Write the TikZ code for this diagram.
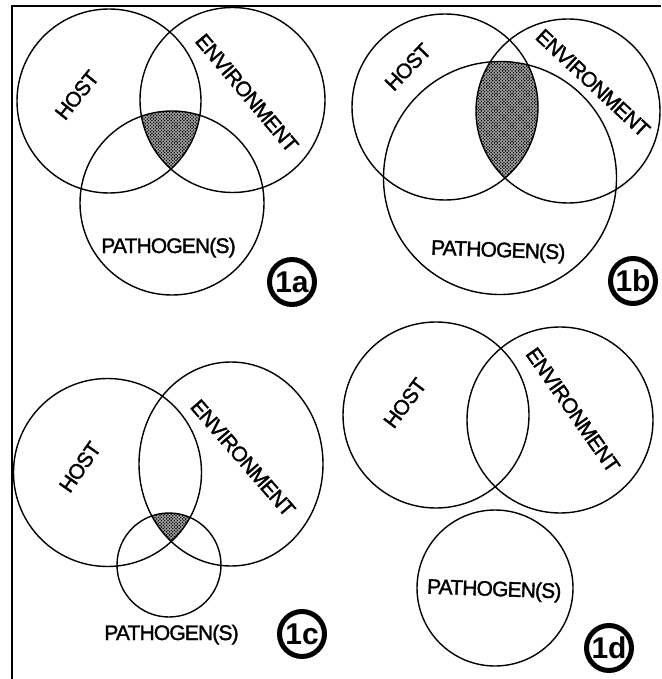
\documentclass[tikz,border=0pt]{standalone}
\usepackage{fontspec}
\setmainfont{Liberation Sans}
\newfontface\lblface[FakeBold=1.6, LetterSpace=-4]{Liberation Sans}
\usetikzlibrary{patterns}

% stipple used for the shaded overlap regions
\pgfdeclarepatternformonly{stipple}{\pgfqpoint{-1pt}{-1pt}}{\pgfqpoint{2.2pt}{2.2pt}}{\pgfqpoint{3.2pt}{3.2pt}}{%
  \pgfpathcircle{\pgfqpoint{0pt}{0pt}}{0.9pt}%
  \pgfpathcircle{\pgfqpoint{1.6pt}{1.6pt}}{0.9pt}%
  \pgfusepath{fill}}

\begin{document}
\begin{tikzpicture}[x=1pt, y=-1pt,
  ring/.style={draw, line width=1.4pt},
  lbl/.style={font=\lblface\fontsize{21}{22}\selectfont, inner sep=0pt},
  tag/.style={circle, draw, line width=5pt, minimum size=45pt, inner sep=0pt,
              font=\bfseries\fontsize{30}{30}\selectfont},
  dotfill/.style={fill=black!30, postaction={pattern=stipple}}]

\useasboundingbox (0,0) rectangle (661,679);

% frame (top and left edges)
\draw[line width=2pt] (12,679) -- (12,6) -- (661,6);

% ---------- 1a ----------
\begin{scope}
  \clip (109,101) circle (92);
  \clip (232.5,100) circle (92.5);
  \fill[dotfill] (172,203) circle (92);
\end{scope}
\draw[ring] (109,101) circle (92);
\draw[ring] (232.5,100) circle (92.5);
\draw[ring] (172,203) circle (92);
\node[lbl, rotate=51] (hostA) at (77,95) {HOST};
\node[lbl, rotate=-50] (envA) at (247,93) {ENVIRONMENT};
\node[lbl, anchor=base] (pathA) at (168.5,253) {PATHOGEN(S)};
\node[tag] (tagA) at (292,282) {1a};

% ---------- 1b ----------
\begin{scope}
  \clip (445,107) circle (93);
  \clip (568,111) circle (92);
  \fill[dotfill] (500,178) circle (116.5);
\end{scope}
\draw[ring] (445,107) circle (93);
\draw[ring] (568,111) circle (92);
\draw[ring] (500,178) circle (116.5);
\node[lbl, rotate=46] (hostB) at (408,67) {HOST};
\node[lbl, rotate=-43] (envB) at (593,83) {ENVIRONMENT};
\node[lbl, anchor=base, rotate=-2] (pathB) at (498,257) {PATHOGEN(S)};
\node[tag] (tagB) at (633,281) {1b};

% ---------- 1c ----------
\begin{scope}
  \clip (107.5,472.5) circle (94);
  \clip (231,464) ellipse [x radius=92, y radius=102];
  \fill[dotfill] (169,565) circle (52);
\end{scope}
\draw[ring] (107.5,472.5) circle (94);
\draw[ring] (231,464) ellipse [x radius=92, y radius=102];
\draw[ring] (169,565) circle (52);
\node[lbl, rotate=55] (hostC) at (80,467) {HOST};
\node[lbl, rotate=-49] (envC) at (243,458) {ENVIRONMENT};
\node[lbl, anchor=base] (pathC) at (171.5,640) {PATHOGEN(S)};
\node[tag] (tagC) at (302,634) {1c};

% ---------- 1d ----------
\draw[ring] (436,415) circle (93);
\draw[ring] (560,420) circle (93);
\draw[ring] (495,588) circle (78);
\node[lbl, rotate=53] (hostD) at (405,403) {HOST};
\node[lbl, rotate=-55] (envD) at (573,410) {ENVIRONMENT};
\node[lbl, anchor=base, rotate=-2] (pathD) at (494,596) {PATHOGEN(S)};
\node[tag] (tagD) at (609,648) {1d};

\end{tikzpicture}
\end{document}
